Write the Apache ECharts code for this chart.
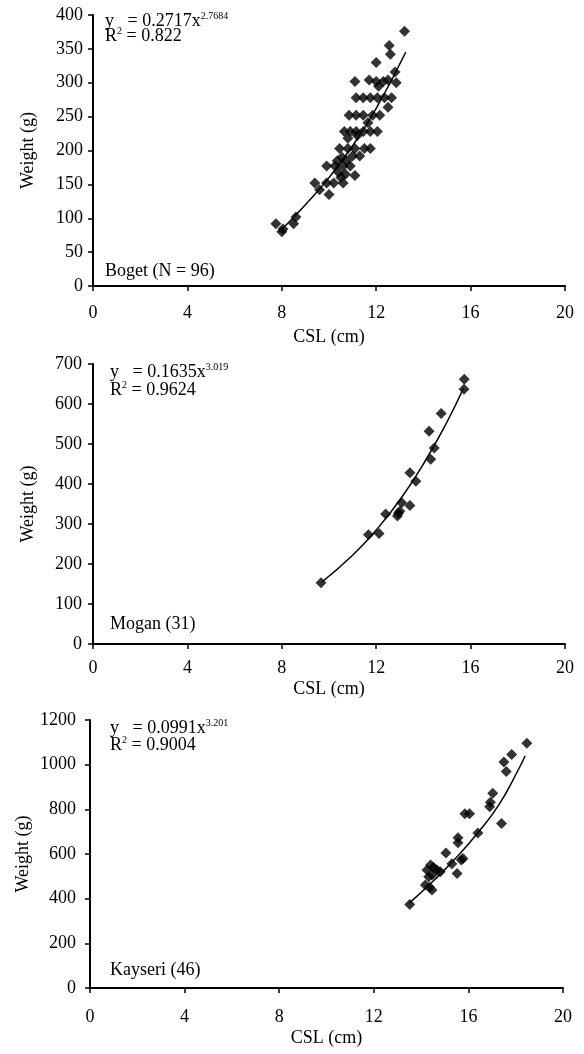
<!DOCTYPE html>
<html>
<head>
<meta charset="utf-8">
<script src="https://cdn.jsdelivr.net/npm/echarts@6/dist/echarts.min.js"></script>
<style>
  html, body { margin: 0; padding: 0; background: #fff; }
  #chart { width: 584px; height: 1054px; }
</style>
</head>
<body>
<div id="chart"></div>
<script>
// values (CSL in cm, weight in g)
const cslTicks = [0, 4, 8, 12, 16, 20]

const bogetCsl = [7.75, 8.0, 8.05, 8.5, 8.6, 9.4, 9.6, 10.0, 9.9, 10.2, 10.6, 9.9, 10.25, 10.6, 10.9, 10.4, 10.7, 11.1, 10.5, 10.35, 10.55, 10.75, 10.45, 10.8, 11.1, 11.5, 11.75, 11.0, 11.3, 10.8, 11.2, 10.65, 10.9, 11.15, 11.45, 11.75, 12.05, 11.65, 10.85, 11.15, 11.45, 11.85, 12.15, 12.5, 11.15, 11.45, 11.75, 12.05, 12.35, 12.65, 11.1, 11.7, 12.0, 12.3, 12.5, 12.85, 12.1, 12.8, 12.0, 12.55, 12.6, 13.2]
const bogetWeight = [92, 80, 84, 92, 102, 152, 142, 135, 152, 152, 152, 177, 177, 177, 177, 168, 165, 163, 160, 185, 190, 185, 203, 203, 203, 203, 203, 192, 192, 218, 222, 228, 228, 228, 228, 228, 228, 241, 252, 252, 252, 252, 252, 264, 278, 278, 278, 278, 278, 278, 302, 304, 302, 302, 304, 300, 295, 316, 330, 355, 342, 376]
const bogetFitCsl = [7.9, 9, 10, 11, 12, 13.25]
const bogetFitWeight = [80, 120, 160, 207, 262, 345]

const moganCsl = [9.66, 11.67, 12.12, 12.4, 12.9, 12.94, 13.0, 13.08, 13.43, 13.43, 13.68, 14.24, 14.31, 14.46, 14.75, 15.72, 15.73]
const moganWeight = [153, 273, 276, 325, 320, 327, 332, 353, 346, 428, 407, 532, 462, 490, 576, 637, 662]
const moganFitCsl = [9.7, 11, 12, 13, 14, 15, 15.7]
const moganFitWeight = [155, 222, 285, 360, 450, 555, 640]

const kayseriCsl = [13.52, 14.18, 14.36, 14.46, 14.32, 14.46, 14.25, 14.67, 14.4, 14.53, 14.81, 15.05, 15.3, 15.52, 15.7, 15.77, 15.56, 15.56, 15.85, 16.05, 16.4, 16.9, 16.93, 17.03, 17.4, 17.5, 17.6, 17.83, 18.47]
const kayseriWeight = [374, 461, 451, 439, 498, 506, 528, 528, 551, 540, 521, 604, 556, 513, 573, 580, 650, 673, 780, 780, 694, 812, 832, 872, 737, 1012, 969, 1046, 1096]
const kayseriFitCsl = [13.5, 14.5, 15.5, 16.4, 17.3, 18.1, 18.4]
const kayseriFitWeight = [380, 478, 585, 695, 822, 975, 1040]

const FONT = "'Liberation Serif', 'Times New Roman', serif"

function pairs(xs, ys) {
  return xs.map((x, i) => [x, ys[i]])
}

function xAxisFor(idx, labelMargin, nameGap) {
  return {
    type: 'value',
    gridIndex: idx,
    min: cslTicks[0],
    max: cslTicks[cslTicks.length - 1],
    interval: cslTicks[1] - cslTicks[0],
    name: 'CSL (cm)',
    nameLocation: 'middle',
    nameGap: nameGap,
    nameTextStyle: { color: '#000', fontFamily: FONT, fontSize: 18 },
    axisLine: { onZero: false, lineStyle: { color: '#000', width: 2 } },
    axisTick: { length: 5, lineStyle: { color: '#000', width: 1.5 } },
    axisLabel: { color: '#000', fontFamily: FONT, fontSize: 18, margin: labelMargin },
    splitLine: { show: false }
  }
}

function yAxisFor(idx, max, interval, labelMargin, nameGap) {
  return {
    type: 'value',
    gridIndex: idx,
    min: 0,
    max: max,
    interval: interval,
    name: 'Weight (g)',
    nameLocation: 'middle',
    nameRotate: 90,
    nameGap: nameGap,
    nameMoveOverlap: false,
    nameTextStyle: { color: '#000', fontFamily: FONT, fontSize: 18 },
    axisLine: { onZero: false, lineStyle: { color: '#000', width: 2 } },
    axisTick: { length: 5, lineStyle: { color: '#000', width: 1.5 } },
    axisLabel: {
      color: '#000', fontFamily: FONT, fontSize: 18, margin: labelMargin,
      formatter: v => String(v)
    },
    splitLine: { show: false }
  }
}

function scatterFor(idx, xs, ys) {
  return {
    type: 'scatter',
    xAxisIndex: idx,
    yAxisIndex: idx,
    symbol: 'diamond',
    symbolSize: 11,
    itemStyle: { color: '#000' },
    data: pairs(xs, ys),
    z: 3
  }
}

function fitFor(idx, xs, ys) {
  return {
    type: 'line',
    xAxisIndex: idx,
    yAxisIndex: idx,
    smooth: true,
    showSymbol: false,
    lineStyle: { color: '#000', width: 1.5 },
    data: pairs(xs, ys),
    z: 2
  }
}

const rich = {
  a: { fontFamily: FONT, fontSize: 18, color: '#000', lineHeight: 20 },
  s: { fontFamily: FONT, fontSize: 10, color: '#000', verticalAlign: 'top', lineHeight: 20 }
}

function note(x, y, text) {
  return {
    type: 'text',
    left: x,
    top: y,
    style: { text: text, rich: rich, fill: '#000' }
  }
}

const chart = echarts.init(document.getElementById('chart'))

chart.setOption({
  animation: false,
  backgroundColor: '#fff',
  grid: [
    { left: 93, top: 15, width: 472, height: 271 },
    { left: 93, top: 364, width: 472, height: 280 },
    { left: 90, top: 720, width: 473, height: 268 }
  ],
  xAxis: [
    xAxisFor(0, 18, 42),
    xAxisFor(1, 15, 36),
    xAxisFor(2, 20, 41)
  ],
  yAxis: [
    yAxisFor(0, 400, 50, 10, 56),
    yAxisFor(1, 700, 100, 11, 56),
    yAxisFor(2, 1200, 200, 14, 58)
  ],
  series: [
    fitFor(0, bogetFitCsl, bogetFitWeight),
    scatterFor(0, bogetCsl, bogetWeight),
    fitFor(1, moganFitCsl, moganFitWeight),
    scatterFor(1, moganCsl, moganWeight),
    fitFor(2, kayseriFitCsl, kayseriFitWeight),
    scatterFor(2, kayseriCsl, kayseriWeight)
  ],
  graphic: [
    note(105, 11, '{a|y   = 0.2717x}{s|2.7684}'),
    note(105, 26, '{a|R}{s|2}{a| = 0.822}'),
    note(105, 262, '{a|Boget (N = 96)}'),
    note(110, 362, '{a|y   = 0.1635x}{s|3.019}'),
    note(110, 380, '{a|R}{s|2}{a| = 0.9624}'),
    note(110, 615, '{a|Mogan (31)}'),
    note(110, 718, '{a|y   = 0.0991x}{s|3.201}'),
    note(110, 735, '{a|R}{s|2}{a| = 0.9004}'),
    note(110, 961, '{a|Kayseri (46)}')
  ]
})
</script>
</body>
</html>
